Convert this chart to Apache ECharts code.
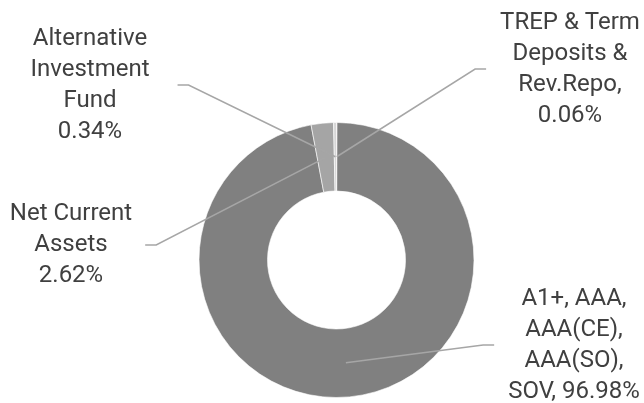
<!DOCTYPE html>
<html>
<head>
<meta charset="utf-8">
<script src="https://cdn.jsdelivr.net/npm/echarts@6/dist/echarts.min.js"></script>
<style>
html,body{margin:0;padding:0;background:#fff;}
#chart{width:644px;height:403px;}
</style>
</head>
<body>
<div id="chart"></div>
<script>
// Data (clockwise from 12 o'clock)
var categories = [
  "TREP & Term\nDeposits &\nRev.Repo,",
  "A1+, AAA,\nAAA(CE),\nAAA(SO),\nSOV,",
  "Net Current\nAssets",
  "Alternative\nInvestment\nFund"
];
var values = [0.06, 96.98, 2.62, 0.34];
var valueSeparators = ["\n", " ", "\n", "\n"];

// Styling / layout (not data)
var colors = ["#ee6f95", "#808080", "#a5a5a5", "#d6d6d6"];
var labelCenters = [[570, 69], [574, 345], [71, 245], [90, 85]];
var lineGaps = [14, 14, 13, 28];
var CENTER = [336.5, 260];
var R0 = 69, R1 = 137.5;
var RMID = (R0 + R1) / 2;

var chart = echarts.init(document.getElementById('chart'), null, {renderer: 'canvas'});

var ringData = values.map(function (v, i) {
  return {name: categories[i], value: v, itemStyle: {color: colors[i]}};
});
var labelData = values.map(function (v, i) {
  return {name: categories[i], value: v};
});

chart.setOption({
  backgroundColor: '#ffffff',
  animation: false,
  series: [{
    type: 'pie',
    z: 2,
    center: CENTER,
    radius: [R0, R1],
    startAngle: 90,
    clockwise: true,
    silent: true,
    itemStyle: {borderColor: '#ffffff', borderWidth: 0.6},
    emphasis: {disabled: true},
    label: {show: false},
    labelLine: {show: false},
    data: ringData
  }, {
    type: 'pie',
    z: 5,
    center: CENTER,
    radius: [R0, R1],
    startAngle: 90,
    clockwise: true,
    silent: true,
    avoidLabelOverlap: false,
    minShowLabelAngle: 0,
    itemStyle: {color: 'rgba(0,0,0,0)', borderWidth: 0},
    emphasis: {disabled: true},
    label: {
      show: true,
      position: 'outside',
      fontFamily: 'Roboto',
      fontSize: 24,
      lineHeight: 31,
      color: '#404040',
      align: 'center',
      formatter: function (p) {
        return p.name + valueSeparators[p.dataIndex] + p.value.toFixed(2) + '%';
      }
    },
    labelLine: {
      show: true,
      length: 10,
      length2: 10,
      lineStyle: {color: '#a6a6a6', width: 1.5}
    },
    labelLayout: function (params) {
      var i = params.dataIndex;
      var c = labelCenters[i];
      var w = params.labelRect.width;
      var out = {x: c[0], y: c[1], align: 'center', verticalAlign: 'middle'};
      var pts = params.labelLinePoints;
      if (pts && pts.length) {
        var p0 = pts[0];
        var s = RMID / R1;
        var start = [CENTER[0] + (p0[0] - CENTER[0]) * s, CENTER[1] + (p0[1] - CENTER[1]) * s];
        var leftSide = c[0] < CENTER[0];
        var endX = leftSide ? c[0] + w / 2 + lineGaps[i] : c[0] - w / 2 - lineGaps[i];
        var elbowX = leftSide ? endX + 11 : endX - 11;
        out.labelLinePoints = [start, [elbowX, c[1]], [endX, c[1]]];
      }
      return out;
    },
    data: labelData
  }]
});
</script>
</body>
</html>
